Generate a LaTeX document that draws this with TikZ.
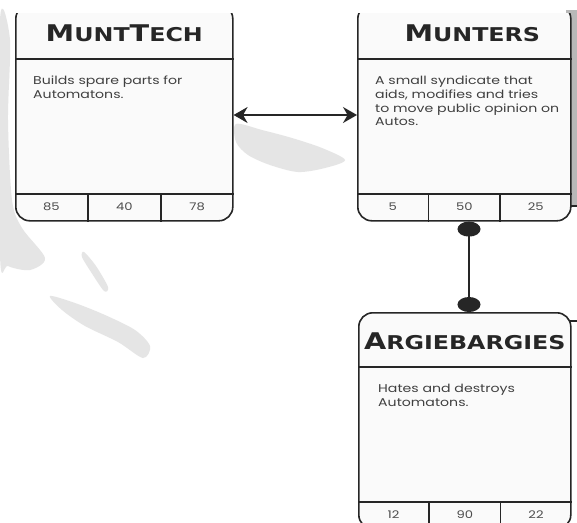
\documentclass[tikz,border=0pt]{standalone}
\usepackage{fontspec}
\usetikzlibrary{arrows.meta, calc, positioning}
\newfontfamily\titlefont[FakeStretch=1.25]{DejaVu Sans}
\newfontfamily\handfont[FakeStretch=1.25]{Poppins}
\newcommand{\firstcap}[1]{{\fontsize{23}{23}\selectfont #1}}
\tikzset{
    card/.style={draw=black!85, line width=1.6pt, fill=black!2, rounded corners=14pt,
        inner sep=0pt, minimum width=#1, minimum height=216pt, anchor=north west},
    card/.default={215pt},
    cardline/.style={draw=black!85, line width=1.6pt},
    cardtitle/.style={font=\titlefont\bfseries\fontsize{19}{19}\selectfont, text=black!85,
        anchor=base, inner sep=0pt},
    blurb/.style={font=\handfont\fontsize{11.3}{13.7}\selectfont, text=black!75, align=left,
        anchor=north west, inner sep=0pt},
    stat/.style={font=\handfont\fontsize{10.5}{10.5}\selectfont, text=black!70, inner sep=0pt},
    smoke/.style={fill=black!10, draw=none},
    link/.style={draw=black!85, line width=1.4pt},
}
\begin{document}
\begin{tikzpicture}[x=1pt, y=-1pt]
    \clip (0,0) rectangle (577,522);
    \fill[white] (0,0) rectangle (577,522);
    % smoke
    \fill[smoke] plot[smooth cycle] coordinates {(0,20) (10,40) (8,120) (12,200) (22,228) (45,258) (30,270) (8,266) (0,255)};
    \fill[smoke] plot[smooth cycle] coordinates {(50,296) (75,303) (105,315) (135,330) (150,346) (143,358) (118,342) (85,326) (62,310)};
    \fill[smoke] plot[smooth cycle] coordinates {(84,252) (96,266) (108,287) (104,291) (91,272) (82,257)};
    \fill[smoke] plot[smooth cycle] coordinates {(236,124) (262,130) (292,138) (322,148) (345,160) (325,168) (298,172) (270,165) (248,155) (236,142)};
    \fill[black!28] (566,10) rectangle (577,206);
    \draw[cardline] (560,206) -- (577,206);
    \draw[cardline] (566,321) -- (577,321);
    \begin{scope}
    \clip (0,13) rectangle (577,522);
    \node[card=217pt] (munttech) at (15,4) {};
    \node[card=213pt] (munters) at (357,4) {};
    \end{scope}
    \node[card=212pt] (argie) at (358,312) {};
    \foreach \c/\sa/\sb/\sc in {munttech/85/40/78, munters/5/50/25, argie/12/90/22}{
        \draw[cardline] ($(\c.north west)+(0,55)$) -- ($(\c.north east)+(0,55)$);
        \draw[cardline] ($(\c.north west)+(0,190)$) -- ($(\c.north east)+(0,190)$);
        \draw[cardline] ($(\c.north west)!1/3!(\c.north east)+(0,190)$) -- ($(\c.south west)!1/3!(\c.south east)$);
        \draw[cardline] ($(\c.north west)!2/3!(\c.north east)+(0,190)$) -- ($(\c.south west)!2/3!(\c.south east)$);
        \node[stat] (\c-a) at ($(\c.north west)!1/6!(\c.north east)+(0,203)$) {\sa};
        \node[stat] (\c-b) at ($(\c.north west)!3/6!(\c.north east)+(0,203)$) {\sb};
        \node[stat] (\c-c) at ($(\c.north west)!5/6!(\c.north east)+(0,203)$) {\sc};
    }
    \node[cardtitle] (munttech-title) at ($(munttech.north)+(0,37)$) {\firstcap{M}UNT\firstcap{T}ECH};
    \node[cardtitle] (munters-title) at ($(munters.north)+(8,37)$) {\firstcap{M}UNTERS};
    \node[cardtitle] (argie-title) at ($(argie.north)+(0,37)$) {\firstcap{A}RGIEBARGIES};
    \node[blurb] (munttech-text) at ($(munttech.north west)+(18,72)$) {Builds spare parts for\\Automatons.};
    \node[blurb] (munters-text) at ($(munters.north west)+(18,72)$) {A small syndicate that\\aids, modifies and tries\\to move public opinion on\\Autos.};
    \node[blurb] (argie-text) at ($(argie.north west)+(20,72)$) {Hates and destroys\\Automatons.};
    \draw[link, {Stealth[length=14pt,width=16pt]}-{Stealth[length=14pt,width=16pt]}]
        (munttech.east |- 0,115) -- (munters.west |- 0,115);
    \draw[link, {Circle[length=15pt,width=23pt]}-{Circle[length=15pt,width=23pt]}]
        (munters.south -| 469,0) -- (argie.north -| 469,0);
\end{tikzpicture}
\end{document}
